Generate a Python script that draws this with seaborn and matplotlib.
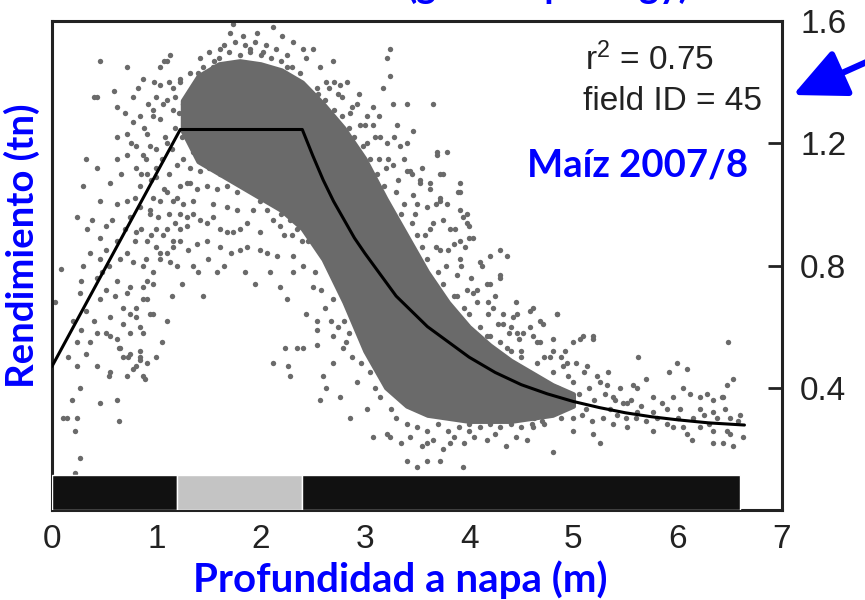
import matplotlib
matplotlib.use("Agg")
import matplotlib.pyplot as plt
import seaborn as sns
import pandas as pd

# ---------------- data ----------------
fit_x = [0.0, 1.23, 2.40, 2.50, 2.60, 2.70, 2.80, 2.90, 3.00, 3.15, 3.30, 3.45, 3.60, 3.80, 4.00,
         4.25, 4.50, 4.75, 5.00, 5.25, 5.50, 5.75, 6.00, 6.30, 6.64]
fit_y = [0.47, 1.245, 1.245, 1.16, 1.08, 1.01, 0.95, 0.89, 0.84, 0.77, 0.70, 0.65, 0.60, 0.55, 0.50,
         0.45, 0.41, 0.38, 0.355, 0.335, 0.318, 0.305, 0.295, 0.285, 0.278]

bar_left = [0.0, 1.2, 2.4]
bar_width = [1.2, 1.2, 4.2]
bar_colors = ["#111111", "#c4c4c4", "#111111"]

# solid dense core of the cloud (upper / lower edge)
core_x = [1.25, 1.4, 1.6, 1.8, 2.0, 2.2, 2.4, 2.6, 2.8, 3.0, 3.2, 3.4, 3.6, 3.8, 4.0, 4.2, 4.4, 4.6, 4.8, 5.0]
core_hi = [1.34, 1.42, 1.46, 1.47, 1.46, 1.44, 1.40, 1.33, 1.25, 1.15, 1.02, 0.90, 0.78, 0.68, 0.60, 0.54, 0.49, 0.45, 0.41, 0.38]
core_lo = [1.24, 1.14, 1.10, 1.06, 1.02, 0.98, 0.92, 0.82, 0.68, 0.52, 0.40, 0.34, 0.31, 0.30, 0.29, 0.29, 0.29, 0.30, 0.31, 0.34]

rise_pts = [
    (.09, .79), (.03, .68), (.27, .71), (.28, .75), (.28, .59), (.24, .55), (.33, .51), (.43, .47), (.27, .40),
    (.19, .36), (.14, .30), (.24, .30), (.22, .26), (.27, .17), (.22, .12), (.46, .35), (.64, .29), (.55, .44),
    (.72, .44), (.89, .43), (.64, .53), (.73, .50), (.84, .49), (.75, .58), (.81, .63), (.87, .58), (.91, .69),
    (.87, .73), (.97, .74), (.56, .63), (.46, .69), (.36, .84), (.34, .92), (.46, .89), (.52, .93), (.62, .88),
    (.72, .84), (.78, .81), (.87, .80), (.81, .91), (.91, .88), (1.0, .92), (1.1, .92), (1.16, .88), (1.23, .92),
    (1.13, .81), (1.04, .84), (.94, .97), (.84, .99), (.72, 1.01), (.62, 1.00), (.56, 1.07), (.46, 1.01),
    (.43, 1.12), (.33, 1.15), (.62, 1.15), (.72, 1.16), (.81, 1.12), (.91, 1.10), (1.0, 1.09), (1.07, 1.05),
    (1.16, 1.01), (1.23, .97), (1.29, 1.07), (1.35, 1.01), (1.29, .96), (.62, 1.22), (.72, 1.23), (.78, 1.27),
    (.84, 1.29), (.91, 1.23), (.97, 1.31), (1.04, 1.28), (1.1, 1.34), (1.16, 1.31), (1.23, 1.40), (1.1, 1.47),
    (1.04, 1.45), (.87, 1.41), (.72, 1.45), (.78, 1.35), (.62, 1.32), (.59, 1.37), (.81, 1.19), (.87, 1.16),
    (.94, 1.19), (1.0, 1.18), (1.1, 1.20), (.84, 1.06), (.97, 1.02), (.30, 1.06), (.24, .96), (.62, .75),
    (.46, .82), (.43, .76), (.52, .72), (.72, .71), (.81, .66), (.97, .64), (.68, .61), (.56, .57), (.84, .52),
    (.91, .48), (.78, .46), (.68, .50), (.24, .47), (.62, .36), (.43, .58), (.11, .30), (.33, .65),
    (.94, .64), (.84, .60), (.87, .69), (.75, .64), (.91, .75), (.97, .78), (1.04, .82), (1.1, .84), (1.0, .86),
    (1.16, .86), (1.23, .88), (1.29, .93), (.94, .98), (1.04, 1.01), (1.1, 1.04), (1.23, 1.06), (1.26, 1.15),
    (.75, .73), (.68, .66), (.52, .58), (.62, .56), (.75, .51), (.84, .50), (.81, .47), (.65, .53), (.56, .45),
    (.87, .44), (1.13, 1.49), (1.07, 1.47), (1.04, 1.39), (1.0, 1.35), (1.16, 1.38), (.97, 1.29), (1.26, 1.33),
    (.46, 1.47), (.43, 1.35), (.40, 1.35),
]

extra_pts = [
    (0.80, 1.02), (0.85, 1.10), (0.90, 1.15), (0.95, 1.08), (1.00, 1.12), (1.05, 1.15), (1.08, 1.22), (1.12, 1.10),
    (1.15, 1.18), (1.18, 1.25), (1.20, 1.13), (1.22, 1.30), (1.25, 1.22), (1.28, 1.28), (1.30, 1.36), (1.32, 1.20),
    (1.18, 1.35), (1.12, 1.40), (1.06, 1.33), (0.98, 1.40), (0.92, 1.33), (0.88, 1.25), (0.82, 1.38), (0.76, 1.20),
    (0.70, 1.30), (0.66, 1.10), (0.58, 0.95), (0.52, 0.85), (0.48, 0.78), (0.55, 0.80), (0.60, 0.70), (0.65, 0.82),
    (0.70, 0.92), (0.75, 0.96), (0.80, 0.88), (0.85, 0.92), (0.90, 0.82), (0.95, 0.90), (1.02, 0.96), (1.06, 0.90),
    (1.12, 0.97), (1.18, 0.94), (1.20, 1.02), (1.26, 1.00), (0.38, 0.95), (0.40, 0.62), (0.36, 0.55), (0.30, 0.80),
    (0.20, 0.62), (0.15, 0.50),
    (2.70, 1.40), (2.78, 1.35), (2.86, 1.30), (2.94, 1.36), (3.02, 1.20), (3.08, 1.32), (3.15, 1.22), (3.22, 1.15),
    (3.28, 1.22), (3.32, 1.08), (3.38, 1.15), (3.45, 1.10), (3.50, 1.00), (3.55, 1.12), (3.62, 0.92), (3.68, 1.00),
    (3.75, 0.95), (3.80, 0.85), (3.86, 0.92), (3.92, 0.80), (3.96, 0.86), (4.02, 0.76), (4.08, 0.72), (4.12, 0.80),
    (4.18, 0.68), (4.25, 0.70), (4.32, 0.64), (4.40, 0.60), (4.45, 0.68), (4.52, 0.58), (4.58, 0.60), (4.65, 0.55),
    (4.72, 0.50), (4.80, 0.56), (4.88, 0.50), (4.95, 0.44),
    (1.45, 0.70), (1.40, 0.78), (1.50, 0.82), (1.58, 0.78), (1.65, 0.80), (1.72, 0.84), (1.85, 0.78), (1.95, 0.74),
    (1.30, 0.85), (1.35, 0.80), (1.25, 0.74), (1.20, 0.80), (1.15, 0.70), (1.10, 0.62), (1.05, 0.55), (1.00, 0.50),
]

mid_pts = [
    (1.35, .97), (1.42, .95), (1.49, .94), (1.54, .96), (1.61, .92), (1.68, .91), (1.74, .91), (1.80, .92),
    (1.87, .94), (1.93, .98), (1.99, 1.01), (2.06, .98), (2.12, .95), (2.19, .93), (1.99, .91), (2.06, .84),
    (2.16, .83), (2.31, .83), (1.32, 1.07), (1.39, 1.05), (1.49, 1.06), (1.58, 1.05), (1.68, 1.06), (1.77, 1.04),
    (1.87, 1.06), (1.80, 1.09), (1.71, 1.10), (1.61, 1.10), (1.51, 1.12), (1.42, 1.11), (1.32, 1.12), (1.35, 1.17),
    (1.68, .99), (1.77, .98), (1.54, 1.00), (1.61, .86), (1.80, .85), (1.87, .86), (1.49, .88), (1.39, .87),
    (2.23, .53), (2.35, .53), (2.41, .53), (2.54, .54), (2.12, .48), (2.26, .47), (2.28, .44), (2.60, .44),
    (2.69, .48), (2.63, .40), (2.25, .69), (2.19, .73), (2.44, .64), (2.54, .62), (2.50, .73), (2.69, .69),
    (2.09, .78), (1.99, .85), (2.31, .78), (2.41, .80), (2.54, .59), (2.57, .36), (2.76, .37), (2.86, .30),
    (3.08, .24), (3.21, .25), (2.79, .53), (2.69, .57), (2.92, .42), (3.02, .33),
    (2.15, 1.00), (2.20, .97), (2.28, .95), (2.35, .92), (2.40, .88), (2.30, .90), (2.22, .90),
]

top_pts = [
    (2.69, 1.47), (2.76, 1.39), (2.83, 1.40), (2.92, 1.33), (3.02, 1.29), (3.08, 1.26), (2.95, 1.26), (3.14, 1.29),
    (3.31, 1.26), (3.34, 1.19), (3.21, 1.20), (3.14, 1.15), (3.27, 1.13), (3.40, 1.11), (3.53, 1.07), (3.46, 1.03),
    (3.60, .99), (3.72, 1.01), (3.65, .94), (3.82, .92), (3.91, .88), (2.50, 1.51), (2.41, 1.51), (2.25, 1.49),
    (2.21, 1.55), (2.12, 1.58), (1.97, 1.56), (1.83, 1.55), (1.74, 1.59), (1.71, 1.56), (1.61, 1.51), (1.51, 1.50),
    (1.42, 1.48), (1.32, 1.43), (1.23, 1.41), (1.39, 1.38), (1.45, 1.42), (1.54, 1.45), (1.90, 1.51), (2.02, 1.50),
    (2.31, 1.53), (2.44, 1.48), (2.57, 1.45), (2.63, 1.40), (2.54, 1.38),
    (3.24, 1.51), (3.21, 1.48), (3.24, 1.42), (3.17, 1.38), (3.27, 1.33), (3.40, 1.33), (3.65, 1.33), (3.46, 1.24),
    (3.40, 1.20), (3.69, 1.17), (3.79, 1.17), (3.91, 1.07), (3.91, 1.04), (3.98, .97), (3.72, 1.10), (3.62, 1.05),
    (1.60, 1.48), (1.70, 1.50), (1.80, 1.49), (1.90, 1.50), (2.00, 1.49), (2.10, 1.48), (2.20, 1.47), (2.30, 1.45),
    (2.38, 1.43), (1.55, 1.47), (1.65, 1.52), (1.75, 1.53), (1.85, 1.52), (1.95, 1.53), (2.05, 1.52), (2.15, 1.51),
    (2.25, 1.45), (1.45, 1.45), (1.40, 1.43),
    (2.55, 1.36), (2.62, 1.34), (2.70, 1.31), (2.78, 1.29), (2.85, 1.25), (2.90, 1.22), (2.98, 1.19), (3.05, 1.15),
    (3.12, 1.10), (3.18, 1.06), (2.66, 1.38), (2.74, 1.36), (2.88, 1.32), (3.00, 1.26), (3.10, 1.22), (3.20, 1.12),
    (3.30, 1.04), (3.35, .97), (3.45, .94), (3.50, .90), (3.55, .86), (3.60, .82), (3.70, .78), (3.75, .74),
    (3.85, .70), (3.95, .66), (4.00, .64), (4.10, .60), (4.20, .57), (4.30, .55), (4.40, .52), (4.50, .50),
    (3.38, 1.00), (3.48, .97), (3.58, .90), (3.68, .86), (3.78, .80), (3.88, .77), (3.98, .72), (4.08, .68),
    (4.18, .64), (4.28, .61), (4.38, .58), (4.48, .56),
]

fringe_pts = [
    (3.43, 1.11), (3.53, 1.08), (3.62, 1.07), (3.72, 1.02), (3.79, 1.00), (3.91, .98), (3.98, .94), (4.04, .89),
    (3.85, .87), (3.72, .85), (3.91, .82), (4.10, .81), (4.30, .85), (4.17, .74), (4.30, .76), (4.04, .71),
    (3.88, .70), (4.42, .63), (4.58, .65), (4.68, .62), (4.84, .64), (4.46, .58), (4.61, .57), (4.80, .52),
    (5.00, .55), (5.09, .57), (5.19, .56), (4.94, .48), (5.13, .47), (5.23, .44), (4.36, .53), (4.17, .57),
    (4.23, .66), (4.36, .83), (4.20, .83), (4.30, .77), (4.20, .74), (4.00, .89), (3.94, .96), (3.89, 1.04),
    (3.75, 1.10), (3.69, 1.16), (4.00, .93), (4.71, .61), (4.32, .61), (4.46, .64), (4.61, .66),
    (2.45, .88), (2.52, .78), (2.58, .72), (2.62, .66), (2.68, .62), (2.74, .60), (2.80, .62), (2.85, .58),
    (2.82, .55), (2.88, .50), (2.96, .48), (3.05, .45), (3.10, .40), (3.15, .37), (3.25, .33), (3.30, .30),
    (3.40, .28), (3.50, .27), (3.60, .26), (3.70, .28), (3.80, .26), (3.90, .27), (4.00, .28), (4.10, .27),
    (4.20, .28), (4.30, .27), (4.40, .28), (4.50, .27), (4.60, .28), (4.70, .29), (3.35, .22), (3.55, .21),
    (3.65, .23), (3.85, .24), (3.95, .22), (4.05, .24), (4.25, .25), (4.35, .21), (4.45, .24), (4.55, .23),
    (3.40, .16), (3.50, .14), (3.60, .16), (3.72, .16), (3.94, .14), (3.75, .20), (3.82, .22), (4.80, .19),
    (3.43, .24), (3.24, .24), (3.60, .22), (4.17, .23), (4.00, .26), (4.61, .27),
]

tail_pts = [
    (5.00, .26), (5.19, .25), (5.25, .22), (5.51, .27), (5.76, .26), (5.95, .27), (6.09, .25), (6.14, .23),
    (6.34, .22), (6.43, .22), (6.53, .21), (6.63, .24), (6.47, .26), (6.34, .26), (6.21, .27),
    (6.48, .55), (6.53, .43), (6.47, .41), (6.09, .46), (5.99, .48), (5.92, .45), (5.62, .50), (5.70, .43),
    (5.61, .40), (6.05, .40), (6.12, .38), (6.21, .37), (6.34, .36), (6.43, .37), (5.95, .37), (5.76, .37),
    (5.90, .33), (6.02, .33), (6.21, .33), (6.34, .32), (6.50, .30), (5.76, .32), (5.61, .32), (5.51, .35),
    (5.38, .37), (5.32, .41), (5.19, .57), (5.06, .56), (4.84, .64), (5.57, .41), (6.28, .38), (6.42, .37),
    (4.80, .45), (4.85, .40), (4.90, .47), (4.95, .36), (5.00, .42), (5.05, .38), (5.10, .45), (5.12, .33),
    (5.15, .40), (5.20, .36), (5.25, .42), (5.30, .38), (5.35, .33), (5.40, .36), (5.45, .40), (5.50, .30),
    (4.82, .33), (4.88, .30), (4.92, .52), (5.00, .30), (5.02, .48), (5.08, .31), (5.18, .29), (5.28, .30),
    (5.33, .45), (5.38, .28), (5.42, .31), (5.48, .35), (5.55, .36), (5.60, .30), (5.65, .34), (5.70, .29),
    (5.80, .30), (5.85, .35), (5.90, .28), (6.00, .30), (6.05, .27), (6.15, .30), (6.25, .31), (6.30, .28),
    (6.38, .30), (6.45, .33), (6.50, .25), (6.58, .29), (6.60, .31), (4.75, .35), (4.70, .42), (4.65, .48),
    (4.60, .38), (4.55, .45), (4.50, .52), (4.72, .28), (4.62, .30), (4.68, .55), (4.78, .50),
]

r2_text = "r$^2$ = 0.75"
field_text = "field ID = 45"
crop_text = "Maíz 2007/8"
xlabel_text = "Profundidad a napa (m)"
ylabel_text = "Rendimiento (tn)"
title_text = "(geomorphology)"
x_ticks = [0, 1, 2, 3, 4, 5, 6, 7]
y_ticks = [0.4, 0.8, 1.2, 1.6]

# ---------------- figure ----------------
sns.set_style("white")
plt.rcParams["font.family"] = ["Liberation Sans", "DejaVu Sans"]
plt.rcParams["mathtext.fontset"] = "custom"
plt.rcParams["mathtext.rm"] = "Liberation Sans"
plt.rcParams["mathtext.it"] = "Liberation Sans:italic"

W, H = 865, 600
fig = plt.figure(figsize=(W / 100, H / 100), dpi=100)
ax = fig.add_axes([52 / W, (H - 510) / H, 730 / W, 489 / H])

grey = "#6a6a6a"
all_pts = rise_pts + extra_pts + mid_pts + top_pts + fringe_pts + tail_pts
df = pd.DataFrame(all_pts, columns=["depth", "yield"])

ax.fill_between(core_x, core_lo, core_hi, color=grey, linewidth=3, edgecolor=grey, zorder=1)
sns.scatterplot(data=df, x="depth", y="yield", ax=ax, color=grey, s=15, linewidth=0,
                marker="o", zorder=2, legend=False)
fit_df = pd.DataFrame({"x": fit_x, "y": fit_y})
sns.lineplot(data=fit_df, x="x", y="y", ax=ax, color="black", linewidth=2.2, sort=False,
             estimator=None, zorder=4)
ax.barh(y=0.0575, width=bar_width, left=bar_left, height=0.115, color=bar_colors,
        align="center", zorder=3)

ax.set_xlim(0, 7)
ax.set_ylim(0, 1.6)
ax.set_xticks(x_ticks)
ax.set_yticks(y_ticks)
ax.set_yticklabels([f"{v:.1f}" for v in y_ticks])
ax.yaxis.tick_right()
ax.tick_params(axis="x", direction="in", length=7, width=1.5, labelsize=24, pad=10, colors="#222222")
ax.tick_params(axis="y", direction="in", length=10, width=2, labelsize=24, pad=13, colors="#222222")
ax.set_xlabel("")
ax.set_ylabel("")
for sp in ax.spines.values():
    sp.set_linewidth(2.2)
    sp.set_color("#222222")
    sp.set_visible(True)

fig.text(585 / W, 1 - 60 / H, r2_text, fontsize=24, color="#222222", va="center", ha="left")
fig.text(583 / W, 1 - 101 / H, field_text, fontsize=24, color="#222222", va="center", ha="left")

blue = "#0000ff"
fig.text(527 / W, 1 - 166 / H, crop_text, color=blue, fontsize=27.5, fontweight="bold",
         family=["Lato", "DejaVu Sans"], ha="left", va="center")
fig.text(400 / W, 1 - 580 / H, xlabel_text, color=blue, fontsize=29, fontweight="bold",
         family=["Lato", "DejaVu Sans"], ha="center", va="center")
fig.text(22 / W, 1 - 246 / H, ylabel_text, color=blue, fontsize=27.5, fontweight="bold",
         family=["Lato", "DejaVu Sans"], ha="center", va="center", rotation=90)
fig.text(690 / W, 1 + 2 / H, title_text, color=blue, fontsize=27, fontweight="bold",
         family=["Lato", "DejaVu Sans"], ha="right", va="baseline")

ax.annotate("", xy=(793 / W, 1 - 95 / H), xytext=(880 / W, 1 - 56 / H),
            xycoords="figure fraction", textcoords="figure fraction", annotation_clip=False,
            arrowprops=dict(arrowstyle="-|>,head_length=1.7,head_width=0.8", color=blue,
                            lw=4.5, mutation_scale=19, shrinkA=0, shrinkB=0))

fig.savefig("out.png", dpi=100)
